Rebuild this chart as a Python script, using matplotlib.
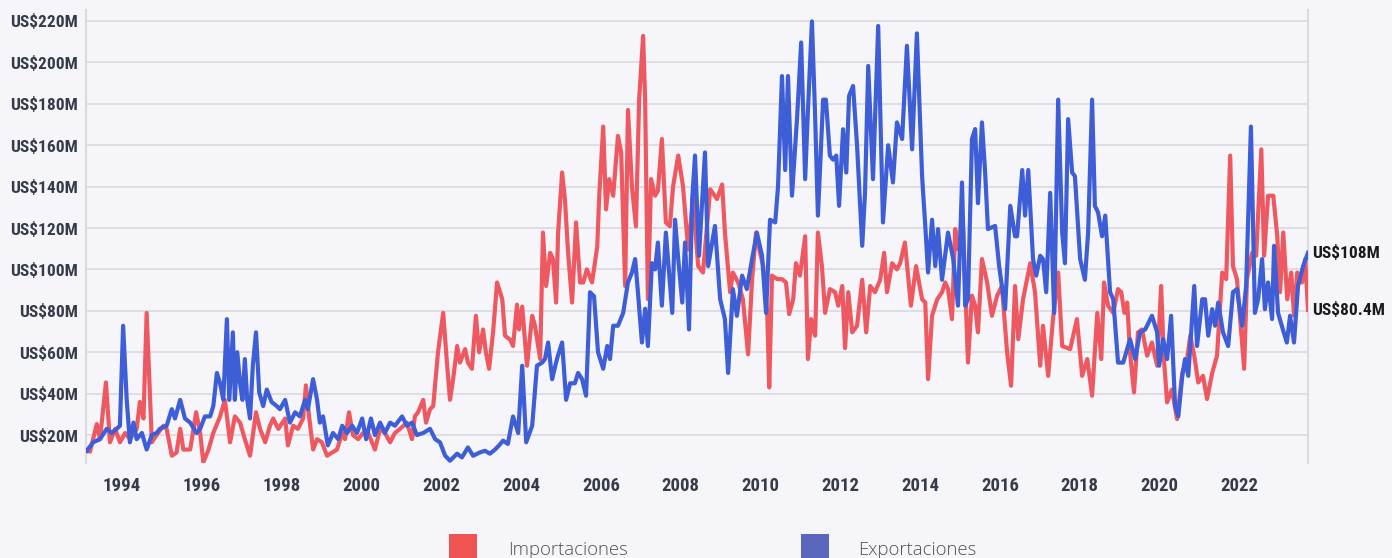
import matplotlib.pyplot as plt
from matplotlib.patches import Rectangle

# Importaciones (rojo) - año decimal / millones de US$
imp_year = [
    1993.12, 1993.20, 1993.37, 1993.45, 1993.60, 1993.70, 1993.83, 1993.95, 1994.08, 1994.20,
    1994.37, 1994.45, 1994.54, 1994.62, 1994.75, 1994.87, 1995.04, 1995.12, 1995.25, 1995.37,
    1995.46, 1995.54, 1995.71, 1995.86, 1995.96, 1996.04, 1996.17, 1996.29, 1996.46, 1996.58,
    1996.71, 1996.83, 1996.96, 1997.08, 1997.21, 1997.36, 1997.46, 1997.59, 1997.71, 1997.79,
    1997.92, 1998.09, 1998.16, 1998.29, 1998.41, 1998.54, 1998.61, 1998.69, 1998.79, 1998.89,
    1999.01, 1999.14, 1999.27, 1999.39, 1999.52, 1999.59, 1999.69, 1999.79, 1999.92, 2000.04,
    2000.17, 2000.34, 2000.47, 2000.59, 2000.72, 2000.84, 2000.97, 2001.14, 2001.27, 2001.34,
    2001.42, 2001.55, 2001.62, 2001.72, 2001.80, 2001.92, 2002.05, 2002.15, 2002.22, 2002.30,
    2002.40, 2002.47, 2002.60, 2002.67, 2002.77, 2002.87, 2002.95, 2003.05, 2003.12, 2003.20,
    2003.30, 2003.40, 2003.53, 2003.60, 2003.73, 2003.80, 2003.90, 2003.95, 2004.03, 2004.15,
    2004.28, 2004.35, 2004.48, 2004.55, 2004.63, 2004.73, 2004.80, 2004.88, 2004.93, 2005.03,
    2005.10, 2005.18, 2005.28, 2005.38, 2005.48, 2005.56, 2005.65, 2005.78, 2005.91, 2005.96,
    2006.06, 2006.13, 2006.21, 2006.31, 2006.43, 2006.51, 2006.61, 2006.68, 2006.78, 2006.88,
    2006.96, 2007.06, 2007.11, 2007.18, 2007.26, 2007.36, 2007.43, 2007.53, 2007.63, 2007.73,
    2007.81, 2007.94, 2008.06, 2008.19, 2008.31, 2008.44, 2008.56, 2008.74, 2008.91, 2009.04,
    2009.11, 2009.24, 2009.31, 2009.44, 2009.56, 2009.69, 2009.79, 2009.89, 2009.99, 2010.07,
    2010.17, 2010.22, 2010.29, 2010.42, 2010.54, 2010.64, 2010.72, 2010.82, 2010.89, 2010.99,
    2011.12, 2011.19, 2011.27, 2011.37, 2011.44, 2011.54, 2011.62, 2011.74, 2011.87, 2011.95,
    2012.05, 2012.12, 2012.20, 2012.30, 2012.42, 2012.55, 2012.65, 2012.75, 2012.87, 2013.00,
    2013.10, 2013.17, 2013.30, 2013.42, 2013.50, 2013.62, 2013.77, 2013.90, 2014.05, 2014.13,
    2014.20, 2014.30, 2014.43, 2014.55, 2014.63, 2014.70, 2014.80, 2014.88, 2014.95, 2015.08,
    2015.20, 2015.30, 2015.38, 2015.45, 2015.55, 2015.68, 2015.80, 2015.93, 2016.05, 2016.18,
    2016.28, 2016.38, 2016.46, 2016.58, 2016.76, 2016.88, 2017.01, 2017.08, 2017.21, 2017.33,
    2017.46, 2017.56, 2017.76, 2017.93, 2018.06, 2018.19, 2018.31, 2018.44, 2018.54, 2018.61,
    2018.71, 2018.84, 2018.96, 2019.04, 2019.12, 2019.19, 2019.26, 2019.36, 2019.46, 2019.56,
    2019.69, 2019.81, 2019.94, 2020.04, 2020.11, 2020.19, 2020.31, 2020.44, 2020.57, 2020.69,
    2020.77, 2020.87, 2020.97, 2021.09, 2021.19, 2021.32, 2021.44, 2021.57, 2021.67, 2021.77,
    2021.84, 2021.94, 2022.04, 2022.12, 2022.19, 2022.32, 2022.42, 2022.55, 2022.62, 2022.72,
    2022.85, 2022.95, 2023.02, 2023.10, 2023.20, 2023.30, 2023.37, 2023.45, 2023.57, 2023.65,
    2023.72,
]
imp_val = [
    12.4, 12, 25.3, 18, 45.4, 16.5, 23, 16.5, 21, 18,
    23, 36, 28, 79, 16.5, 20, 24.5, 23, 10, 11.6,
    23, 13, 13, 31, 21, 6.8, 13, 21, 29, 37,
    16.5, 29, 26, 18, 10, 31, 23, 16.5, 24.5, 28,
    23, 28, 15, 24.5, 23, 28, 44, 29, 13, 18,
    16.5, 10, 11.6, 13, 21, 18, 31, 20, 18, 21,
    21, 13, 23, 21, 16.5, 21, 23, 26, 18, 29,
    31, 37, 26, 32.5, 34, 60, 79, 53.5, 37, 47,
    63, 55, 61.5, 55, 52, 77.6, 60, 71, 60, 52,
    69.6, 93.7, 85.6, 68, 66, 63, 83, 71, 82, 53.5,
    77.6, 72.8, 56.7, 117.8, 92, 108, 105, 84, 117.8, 146.8,
    134, 108, 84, 122.7, 93.7, 93.7, 100, 93.7, 111, 135.6,
    169, 129, 143.6, 135.6, 164.5, 156.5, 92, 177, 140, 120.8,
    182, 212.8, 182, 85.6, 143.6, 135.6, 138, 163, 122.7, 120.8,
    140, 155, 140, 109.6, 134, 101.6, 98.5, 138.7, 134, 141,
    117.8, 89, 98.5, 93.7, 85.6, 59, 95, 117.8, 108, 101.6,
    79, 43, 97, 95.3, 95.3, 93.7, 78.4, 85.6, 103, 97,
    116, 56.7, 76, 68, 117.8, 101.6, 79, 90.5, 89, 82.5,
    92, 62, 89, 69.6, 72.8, 95, 69.6, 92, 89, 95,
    108, 89, 103, 100, 103, 113, 82.5, 101.6, 85.6, 84,
    47, 77.6, 85.6, 89, 93.7, 90.5, 76, 119.5, 109.8, 119.5,
    55, 87.3, 82.5, 69.6, 105, 93.7, 77.6, 87.3, 92, 60,
    43.8, 92, 66.3, 85.6, 103, 89, 53.5, 72.8, 48.6, 76,
    98.5, 63, 61.5, 76, 48.6, 56.7, 39, 79, 56.7, 93.7,
    82.5, 79, 90.5, 89, 79, 84, 60, 40.6, 69.6, 71,
    58.3, 64.7, 53.5, 92, 56.7, 35.8, 42, 27.7, 50, 56.7,
    68, 58.3, 45.4, 48.6, 37.4, 50, 58.3, 98.5, 95.3, 155,
    101.6, 95.3, 71, 52, 95.3, 108, 106.6, 158, 106.6, 135.6,
    135.6, 116, 89, 117.8, 85.6, 98.5, 77.6, 98.5, 93.7, 105,
    80.4,
]

# Exportaciones (azul)
exp_year = [
    1993.12, 1993.28, 1993.45, 1993.62, 1993.74, 1993.87, 1993.95, 1994.03, 1994.12, 1994.20,
    1994.29, 1994.37, 1994.50, 1994.62, 1994.75, 1994.87, 1994.95, 1995.12, 1995.25, 1995.33,
    1995.46, 1995.58, 1995.71, 1995.87, 1995.96, 1996.08, 1996.21, 1996.29, 1996.38, 1996.46,
    1996.54, 1996.63, 1996.69, 1996.78, 1996.83, 1996.89, 1996.96, 1997.02, 1997.08, 1997.14,
    1997.21, 1997.28, 1997.36, 1997.44, 1997.54, 1997.63, 1997.75, 1997.88, 1997.96, 1998.09,
    1998.21, 1998.34, 1998.46, 1998.59, 1998.66, 1998.79, 1998.89, 1998.96, 1999.04, 1999.16,
    1999.29, 1999.42, 1999.52, 1999.64, 1999.77, 1999.89, 2000.02, 2000.12, 2000.24, 2000.34,
    2000.47, 2000.59, 2000.72, 2000.84, 2001.02, 2001.14, 2001.27, 2001.39, 2001.55, 2001.72,
    2001.85, 2001.97, 2002.10, 2002.22, 2002.40, 2002.52, 2002.67, 2002.80, 2002.97, 2003.10,
    2003.22, 2003.35, 2003.45, 2003.55, 2003.67, 2003.80, 2003.93, 2004.03, 2004.13, 2004.28,
    2004.40, 2004.53, 2004.60, 2004.68, 2004.78, 2004.90, 2005.03, 2005.13, 2005.23, 2005.35,
    2005.43, 2005.53, 2005.63, 2005.73, 2005.83, 2005.93, 2006.06, 2006.16, 2006.23, 2006.31,
    2006.43, 2006.56, 2006.68, 2006.78, 2006.86, 2006.93, 2007.03, 2007.11, 2007.18, 2007.28,
    2007.36, 2007.43, 2007.53, 2007.63, 2007.79, 2007.86, 2007.94, 2008.04, 2008.11, 2008.21,
    2008.29, 2008.36, 2008.46, 2008.61, 2008.69, 2008.86, 2008.99, 2009.11, 2009.19, 2009.31,
    2009.41, 2009.54, 2009.66, 2009.79, 2009.91, 2010.04, 2010.14, 2010.24, 2010.37, 2010.44,
    2010.54, 2010.62, 2010.69, 2010.79, 2010.92, 2011.02, 2011.12, 2011.19, 2011.29, 2011.37,
    2011.44, 2011.57, 2011.64, 2011.74, 2011.82, 2011.90, 2011.97, 2012.07, 2012.15, 2012.22,
    2012.32, 2012.42, 2012.55, 2012.62, 2012.70, 2012.82, 2012.95, 2013.07, 2013.20, 2013.32,
    2013.42, 2013.55, 2013.67, 2013.80, 2013.92, 2014.05, 2014.13, 2014.20, 2014.30, 2014.38,
    2014.45, 2014.55, 2014.70, 2014.83, 2014.95, 2015.05, 2015.13, 2015.20, 2015.30, 2015.38,
    2015.45, 2015.55, 2015.63, 2015.70, 2015.88, 2015.98, 2016.13, 2016.26, 2016.38, 2016.43,
    2016.56, 2016.63, 2016.71, 2016.83, 2016.91, 2017.01, 2017.08, 2017.16, 2017.26, 2017.36,
    2017.46, 2017.56, 2017.63, 2017.71, 2017.81, 2017.88, 2018.01, 2018.13, 2018.21, 2018.31,
    2018.38, 2018.46, 2018.56, 2018.64, 2018.76, 2018.84, 2018.96, 2019.09, 2019.26, 2019.39,
    2019.51, 2019.64, 2019.81, 2019.94, 2019.99, 2020.09, 2020.19, 2020.29, 2020.39, 2020.47,
    2020.57, 2020.64, 2020.72, 2020.82, 2020.87, 2020.94, 2021.07, 2021.14, 2021.22, 2021.32,
    2021.39, 2021.47, 2021.59, 2021.72, 2021.84, 2021.94, 2022.07, 2022.17, 2022.29, 2022.39,
    2022.47, 2022.57, 2022.64, 2022.72, 2022.82, 2022.87, 2022.97, 2023.09, 2023.19, 2023.27,
    2023.37, 2023.47, 2023.60, 2023.72,
]
exp_val = [
    12.4, 16.5, 18, 23, 21, 23, 24.5, 72.8, 37, 16.5,
    26, 18, 21, 13, 20, 21, 23, 24.5, 32.5, 28,
    37, 28, 26, 21, 23, 29, 29, 34, 50, 45,
    37, 76, 37, 69.6, 37, 60, 45, 37, 56.7, 37,
    28, 53.5, 69.6, 40.6, 34, 42, 36, 34, 32.5, 37,
    26, 31, 29, 37, 32.5, 47, 37, 26, 29, 15,
    21, 18, 24.5, 21, 24.5, 21, 28, 18, 28, 20,
    26, 21, 26, 24.5, 29, 24.5, 26, 20, 21, 23,
    18, 16.5, 10, 7.6, 11, 9.2, 14, 10, 11.6, 12.4,
    11, 13, 15, 17.3, 15.7, 29, 21, 53.5, 16.5, 24.5,
    53.5, 55, 56.7, 64.7, 47, 56.7, 64.7, 37, 45, 45,
    50, 47, 39, 89, 87, 60, 52, 63, 56.7, 72.8,
    72.8, 79, 93.7, 98.5, 105, 89, 64.7, 81, 63, 103,
    100, 113, 82.5, 117.8, 79, 124, 105, 84, 113, 71,
    134, 155, 106.6, 156.5, 101.6, 121, 85.6, 76, 50, 90.5,
    77.6, 97, 90.5, 105, 117.8, 106.6, 79, 124, 122.7, 140,
    193.4, 148, 193.4, 135.6, 174, 209.6, 143.6, 177, 219.8, 174,
    126, 182, 182, 155, 153, 155, 130.7, 167.7, 146.8, 183.8,
    188.6, 160, 111.4, 137, 198.3, 143.6, 217.6, 122.7, 160, 142,
    171, 163, 208, 158, 214, 145, 121, 98.5, 124, 101.6,
    119.5, 95, 117.8, 105, 82.5, 142, 82.5, 85.6, 163, 167.8,
    132, 171, 146.8, 119.5, 121, 101.6, 80.8, 130.7, 116, 116,
    148, 126, 148, 105, 97, 106.6, 105, 89, 137, 79,
    182, 117.8, 103, 172.6, 146.8, 145, 105, 95, 117.8, 182,
    130.7, 127.5, 116, 126, 89, 85.6, 55, 55, 66.3, 56.7,
    69.6, 71, 77.6, 69.6, 53.5, 66.3, 56.7, 77.6, 34, 29,
    48.6, 56.7, 48.6, 77.6, 92, 63, 85.6, 85.6, 68, 80.8,
    72.8, 84, 69.6, 63, 89, 90.5, 72.8, 92, 169, 79,
    85.6, 105, 80.8, 93.7, 76, 111.4, 79, 71, 64.7, 77.6,
    64.7, 92, 101.7, 108,
]

y_ticks = [20, 40, 60, 80, 100, 120, 140, 160, 180, 200, 220]
x_ticks = list(range(1994, 2023, 2))
series_names = ["Importaciones", "Exportaciones"]

BG = "#f6f6fa"
RED = "#ee5961"
BLUE = "#3e5ed8"
GRID = "#dcdce0"
LABEL_FONT = ["Liberation Sans Narrow", "Roboto Condensed", "DejaVu Sans"]

fig = plt.figure(figsize=(13.92, 5.58), dpi=100, facecolor=BG)
ax = fig.add_axes([86 / 1392, 1 - 463 / 558, (1308 - 86) / 1392, (463 - 10) / 558])
ax.set_facecolor(BG)

ax.plot(imp_year, imp_val, color=RED, lw=3.0, solid_joinstyle="round", zorder=3)
ax.plot(exp_year, exp_val, color=BLUE, lw=3.0, solid_joinstyle="round", zorder=4)

ax.set_xlim(1993.10, 2023.72)
ax.set_ylim(6.5, 225.3)
ax.set_yticks(y_ticks)
ax.set_yticklabels([f"US${v}M" for v in y_ticks])
ax.set_xticks(x_ticks)
ax.set_xticklabels([str(y) for y in x_ticks])
ax.tick_params(axis="y", length=0, pad=6)
ax.tick_params(axis="x", length=0, pad=10)

ax.grid(axis="y", color=GRID, lw=1.3, zorder=0)
ax.grid(axis="x", visible=False)
for side in ["top", "bottom"]:
    ax.spines[side].set_visible(False)
for side in ["left", "right"]:
    ax.spines[side].set_color(GRID)
    ax.spines[side].set_linewidth(1.6)

# etiquetas del último valor
end_labels = []
for vals in [exp_val, imp_val]:
    t = ax.annotate(f"US${vals[-1]:g}M", xy=(1, vals[-1]), xycoords=("axes fraction", "data"),
                    xytext=(3, 0), textcoords="offset points", va="center", ha="left",
                    color="#1a1a1a", annotation_clip=False)
    end_labels.append(t)

bold_texts = ax.get_xticklabels() + ax.get_yticklabels() + end_labels
size = 12.5
for lab in bold_texts:
    lab.set_fontfamily(LABEL_FONT)
    lab.set_fontstretch("condensed")
    lab.set_fontweight("bold")
    lab.set_fontsize(size)
for lab in ax.get_xticklabels() + ax.get_yticklabels():
    lab.set_color("#353b48")

# ajustar el tamaño para que "US$220M" ocupe ~68 px como en el original
fig.canvas.draw()
r = fig.canvas.get_renderer()
w = max(l.get_window_extent(r).width for l in ax.get_yticklabels())
if w > 70:
    size = size * 68 / w
    for lab in bold_texts:
        lab.set_fontsize(size)
for lab in ax.get_xticklabels():
    lab.set_fontsize(size * 1.08)

# leyenda abajo
for x0, color, tx, name in [(449, "#f05452", 508, series_names[0]),
                            (801, "#5a67bd", 858, series_names[1])]:
    fig.patches.append(Rectangle((x0 / 1392, -6 / 558), 28 / 1392, 30 / 558,
                                 transform=fig.transFigure, color=color, lw=0))
    fig.text(tx / 1392, 17 / 558, name, ha="left", va="top", fontsize=13.3,
             family=["Open Sans", "DejaVu Sans"], fontweight="light", color="#505050")

fig.savefig("out.png", dpi=100, facecolor=BG)
